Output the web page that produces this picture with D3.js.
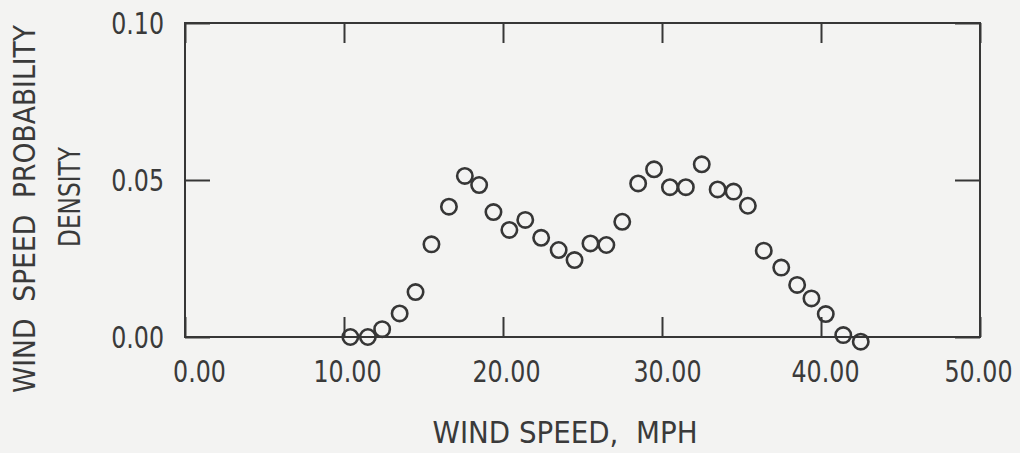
<!DOCTYPE html>
<html>
<head>
<meta charset="utf-8">
<script src="https://cdn.jsdelivr.net/npm/d3@7"></script>
<style>
  html, body { margin: 0; padding: 0; background: #f3f3f2; }
  svg { display: block; }
  text { font-family: "DejaVu Sans Condensed", "DejaVu Sans", sans-serif; fill: #3a3a3a; }
</style>
</head>
<body>
<svg id="chart" width="1020" height="453"></svg>
<script>
// ---- data ----
const windSpeed = [10.4, 11.5, 12.4, 13.5, 14.5, 15.5, 16.6, 17.6, 18.5, 19.4, 20.4, 21.4, 22.4, 23.5, 24.5, 25.5, 26.5, 27.5, 28.5, 29.5, 30.5, 31.5, 32.5, 33.5, 34.5, 35.4, 36.4, 37.5, 38.5, 39.4, 40.3, 41.4, 42.5];
const density   = [0.0, 0.0, 0.0025, 0.0075, 0.0143, 0.0295, 0.0415, 0.0513, 0.0484, 0.0398, 0.0341, 0.0373, 0.0316, 0.0277, 0.0245, 0.0298, 0.0293, 0.0367, 0.0489, 0.0534, 0.0477, 0.0477, 0.0550, 0.0470, 0.0463, 0.0418, 0.0275, 0.0221, 0.0166, 0.0123, 0.0073, 0.0006, -0.0015];
const xTickValues = [0, 10, 20, 30, 40, 50];
const xTickLabels = ["0.00", "10.00", "20.00", "30.00", "40.00", "50.00"];
const yTickValues = [0, 0.05, 0.10];
const yTickLabels = ["0.00", "0.05", "0.10"];
const xTitle = "WIND SPEED,  MPH";
const yTitle1 = "WIND SPEED PROBABILITY";
const yTitle2 = "DENSITY";

// ---- layout ----
const mLeft = 185, mRight = 980, mTop = 23, mBottom = 337;
const ink = "#363636";
const fontSize = 30;
const squeeze = 0.88;   // reference typeface is narrower than DejaVu Condensed
const xLabelShift = [14, 3, 3, 5, 4, -2]; // slight label offsets seen in the print
const svg = d3.select("#chart");

const x = d3.scaleLinear().domain([0, 50]).range([mLeft, mRight]);
const y = d3.scaleLinear().domain([0, 0.10]).range([mBottom, mTop]);

function narrow(sel) {
  sel.each(function () {
    const L = this.getComputedTextLength();
    d3.select(this).attr("textLength", L * squeeze).attr("lengthAdjust", "spacingAndGlyphs");
  });
}

// frame
svg.append("rect")
  .attr("x", mLeft).attr("y", mTop)
  .attr("width", mRight - mLeft).attr("height", mBottom - mTop)
  .attr("fill", "none").attr("stroke", ink).attr("stroke-width", 2);

function styleAxis(g) {
  g.select(".domain").remove();
  g.selectAll(".tick line").attr("stroke", ink).attr("stroke-width", 2);
}

// bottom axis (inward ticks + labels)
const xAxis = d3.axisBottom(x).tickValues(xTickValues)
  .tickFormat((d, i) => xTickLabels[i]).tickSize(-20).tickPadding(0);
const gx = svg.append("g").attr("transform", `translate(0,${mBottom})`).call(xAxis);
styleAxis(gx);
gx.selectAll(".tick text")
  .attr("y", 45).attr("dy", null).attr("dx", (d, i) => xLabelShift[i])
  .attr("font-size", fontSize).attr("fill", ink)
  .style("font-family", '"DejaVu Sans Condensed", sans-serif')
  .call(narrow);

// top axis (ticks only)
const gxt = svg.append("g").attr("transform", `translate(0,${mTop})`)
  .call(d3.axisTop(x).tickValues(xTickValues).tickFormat("").tickSize(-20));
styleAxis(gxt);

// left axis (inward ticks + labels)
const yAxis = d3.axisLeft(y).tickValues(yTickValues)
  .tickFormat((d, i) => yTickLabels[i]).tickSize(-25).tickPadding(21);
const gy = svg.append("g").attr("transform", `translate(${mLeft},0)`).call(yAxis);
styleAxis(gy);
gy.selectAll(".tick text")
  .attr("dy", 10).attr("font-size", fontSize).attr("fill", ink)
  .style("font-family", '"DejaVu Sans Condensed", sans-serif')
  .call(narrow);

// right axis (ticks only)
const gyr = svg.append("g").attr("transform", `translate(${mRight},0)`)
  .call(d3.axisRight(y).tickValues(yTickValues).tickFormat("").tickSize(-25));
styleAxis(gyr);

// points
svg.append("g").selectAll("circle")
  .data(windSpeed.map((w, i) => ({ w, d: density[i] })))
  .join("circle")
  .attr("cx", p => x(p.w))
  .attr("cy", p => y(p.d))
  .attr("r", 7.7)
  .attr("fill", "none")
  .attr("stroke", ink)
  .attr("stroke-width", 2.6);

// titles
svg.append("text")
  .attr("x", 565).attr("y", 443)
  .attr("text-anchor", "middle")
  .attr("font-size", fontSize)
  .attr("fill", ink)
  .style("white-space", "pre")
  .text(xTitle)
  .attr("textLength", 265).attr("lengthAdjust", "spacingAndGlyphs");

svg.append("text")
  .attr("transform", "translate(35,209) rotate(-90)")
  .attr("text-anchor", "middle")
  .attr("font-size", fontSize)
  .attr("fill", ink)
  .style("white-space", "pre")
  .text(yTitle1.replace(/ /g, "  "))
  .attr("textLength", 368).attr("lengthAdjust", "spacingAndGlyphs");

svg.append("text")
  .attr("transform", "translate(80,197) rotate(-90)")
  .attr("text-anchor", "middle")
  .attr("font-size", fontSize)
  .attr("fill", ink)
  .text(yTitle2)
  .attr("textLength", 100).attr("lengthAdjust", "spacingAndGlyphs");
</script>
</body>
</html>
